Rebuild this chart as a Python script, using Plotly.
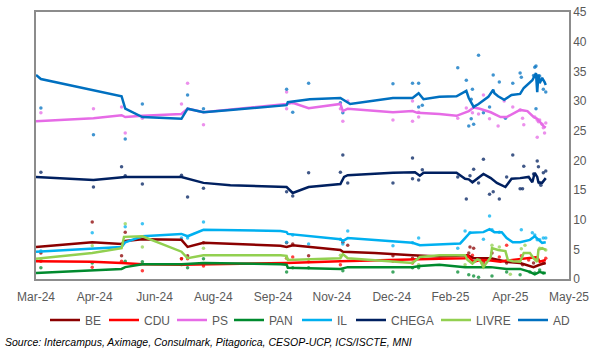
import plotly.graph_objects as go

# ---------------- DATA ----------------
parties = ["BE", "CDU", "PS", "PAN", "IL", "CHEGA", "LIVRE", "AD"]
colors = {"BE": "#8B0000", "CDU": "#FF0000", "PS": "#E66BE6", "PAN": "#008A2E",
          "IL": "#00B0F0", "CHEGA": "#002060", "LIVRE": "#92D050", "AD": "#0070C0"}

tick_dates = ["2024-03-10", "2024-04-27", "2024-06-15", "2024-08-02", "2024-09-20",
              "2024-11-07", "2024-12-26", "2025-02-12", "2025-04-02", "2025-05-20"]
tick_labels = ["Mar-24", "Apr-24", "Jun-24", "Aug-24", "Sep-24",
               "Nov-24", "Dec-24", "Feb-25", "Apr-25", "May-25"]

# --- polling average lines ---
AD_line_d = ["2024-03-10", "2024-03-14", "2024-05-19", "2024-05-22", "2024-06-05", "2024-07-07", "2024-07-12",
             "2024-07-25", "2024-08-16", "2024-10-01", "2024-10-02", "2024-10-20", "2024-11-14", "2024-11-22",
             "2024-12-27", "2025-01-12", "2025-01-17", "2025-01-21", "2025-02-03", "2025-02-17", "2025-02-25",
             "2025-02-27", "2025-03-03", "2025-03-07", "2025-03-15", "2025-03-19", "2025-03-20", "2025-03-23",
             "2025-03-28", "2025-04-03", "2025-04-10", "2025-04-13", "2025-04-20", "2025-04-23", "2025-04-24",
             "2025-04-25", "2025-04-26", "2025-04-28", "2025-04-30", "2025-05-01"]
AD_line_v = [34.4, 33.7, 30.8, 28.7, 27.3, 27.0, 28.7, 28.1, 28.5, 29.3, 29.8, 30.3, 30.5, 29.5,
             30.5, 30.5, 31.3, 30.3, 30.7, 30.8, 31.7, 30.5, 29.0, 29.5, 30.7, 31.9, 31.3, 30.8,
             30.2, 31.0, 31.2, 32.2, 33.5, 34.7, 31.5, 34.5, 33.0, 33.9, 33.2, 32.7]

PS_line_d = ["2024-03-10", "2024-04-26", "2024-05-19", "2024-05-22", "2024-06-05", "2024-07-07", "2024-07-12",
             "2024-07-25", "2024-10-01", "2024-10-06", "2024-10-19", "2024-11-14", "2024-11-16", "2024-11-20",
             "2024-12-27", "2025-01-12", "2025-01-16", "2025-02-03", "2025-02-17", "2025-02-27", "2025-03-03",
             "2025-03-08", "2025-03-17", "2025-03-25", "2025-03-30", "2025-04-10", "2025-04-16", "2025-04-21",
             "2025-04-24", "2025-04-26", "2025-04-29", "2025-05-01"]
PS_line_v = [26.6, 27.1, 27.6, 27.3, 27.5, 27.8, 28.7, 28.1, 29.5, 29.7, 28.8, 29.5, 28.3, 28.7,
             28.1, 28.3, 28.0, 27.8, 27.5, 28.3, 28.9, 28.7, 28.1, 27.3, 27.3, 28.5, 28.3, 27.3,
             27.0, 26.5, 25.8, 25.5]

CHEGA_line_d = ["2024-03-10", "2024-04-26", "2024-05-22", "2024-07-07", "2024-07-25", "2024-08-16", "2024-10-01",
                "2024-10-06", "2024-10-19", "2024-11-14", "2024-11-17", "2024-11-20", "2024-12-27", "2025-01-12",
                "2025-01-14", "2025-01-18", "2025-01-21", "2025-02-03", "2025-02-17", "2025-02-24", "2025-02-27",
                "2025-03-02", "2025-03-11", "2025-03-17", "2025-03-22", "2025-03-29", "2025-04-03", "2025-04-10",
                "2025-04-17", "2025-04-20", "2025-04-22", "2025-04-24", "2025-04-25", "2025-04-28", "2025-05-01"]
CHEGA_line_v = [17.2, 16.7, 17.2, 17.2, 16.2, 15.8, 15.5, 14.5, 15.5, 16.0, 17.2, 17.5, 17.9, 17.9,
                18.0, 17.4, 17.9, 17.9, 17.9, 16.9, 16.8, 16.3, 17.7, 17.0, 16.2, 15.5, 16.9, 17.0,
                17.2, 16.3, 17.9, 17.2, 16.3, 16.2, 17.0]

IL_line_d = ["2024-03-10", "2024-05-19", "2024-05-22", "2024-06-05", "2024-07-07", "2024-07-12", "2024-07-25",
             "2024-09-26", "2024-10-01", "2024-10-02", "2024-11-14", "2024-11-16", "2024-11-20", "2025-01-12",
             "2025-01-18", "2025-02-03", "2025-02-20", "2025-02-24", "2025-02-28", "2025-03-11", "2025-03-16",
             "2025-03-20", "2025-03-26", "2025-03-30", "2025-04-04", "2025-04-10", "2025-04-18", "2025-04-22",
             "2025-04-25", "2025-04-28", "2025-05-01"]
IL_line_v = [4.6, 5.4, 6.2, 7.2, 7.6, 7.2, 8.3, 8.1, 7.9, 7.6, 6.7, 6.4, 6.9, 6.1,
             5.7, 5.9, 6.0, 6.9, 7.8, 7.9, 8.4, 7.9, 7.9, 6.9, 6.2, 6.2, 6.6, 7.2,
             6.6, 6.1, 6.2]

BE_line_d = ["2024-03-10", "2024-04-25", "2024-05-19", "2024-05-22", "2024-06-05", "2024-07-07", "2024-07-12",
             "2024-07-25", "2024-09-26", "2024-10-01", "2024-10-06", "2024-11-14", "2024-11-16", "2024-12-12",
             "2025-01-12", "2025-02-03", "2025-02-26", "2025-03-03", "2025-03-17", "2025-03-30", "2025-04-10",
             "2025-04-21", "2025-04-26", "2025-05-01"]
BE_line_v = [5.4, 6.2, 5.9, 6.4, 6.7, 6.6, 5.4, 6.1, 5.6, 5.4, 5.7, 4.9, 4.6, 4.4,
             4.0, 3.8, 4.0, 3.5, 3.5, 2.9, 2.7, 2.0, 2.4, 2.7]

CDU_line_d = ["2024-03-10", "2024-04-25", "2024-05-19", "2024-06-05", "2024-07-07", "2024-09-26", "2024-10-01",
              "2024-11-14", "2025-01-12", "2025-02-03", "2025-02-24", "2025-02-26", "2025-03-03", "2025-03-08",
              "2025-03-17", "2025-03-25", "2025-03-30", "2025-04-10", "2025-04-18", "2025-04-24", "2025-04-26",
              "2025-05-01"]
CDU_line_v = [3.0, 2.9, 2.7, 2.5, 2.4, 2.7, 2.7, 3.0, 3.2, 3.4, 3.5, 3.9, 2.9, 3.2,
              3.1, 2.9, 3.1, 3.4, 3.5, 3.7, 2.9, 3.2]

PAN_line_d = ["2024-03-10", "2024-05-19", "2024-05-22", "2024-06-05", "2024-07-07", "2024-07-25", "2024-09-26",
              "2024-10-01", "2024-10-02", "2024-11-14", "2024-11-20", "2025-01-12", "2025-01-18", "2025-02-03",
              "2025-02-24", "2025-03-17", "2025-03-30", "2025-04-10", "2025-04-18", "2025-04-22", "2025-04-26",
              "2025-04-29", "2025-05-01"]
PAN_line_v = [1.0, 1.7, 2.0, 2.5, 2.5, 2.7, 2.5, 2.4, 1.9, 1.7, 2.0, 2.0, 2.2, 2.4,
              2.0, 2.0, 1.7, 1.7, 1.2, 0.8, 1.2, 1.0, 1.0]

LIVRE_line_d = ["2024-03-10", "2024-04-25", "2024-05-19", "2024-05-21", "2024-06-05", "2024-07-07", "2024-07-12",
                "2024-07-25", "2024-09-26", "2024-10-01", "2024-10-02", "2024-11-14", "2024-11-16", "2024-11-20",
                "2025-01-12", "2025-01-18", "2025-02-03", "2025-02-24", "2025-02-26", "2025-03-02", "2025-03-06",
                "2025-03-08", "2025-03-11", "2025-03-17", "2025-03-18", "2025-03-23", "2025-03-29", "2025-03-31",
                "2025-04-04", "2025-04-10", "2025-04-13", "2025-04-18", "2025-04-21", "2025-04-24", "2025-04-25",
                "2025-04-28", "2025-05-01"]
LIVRE_line_v = [3.4, 4.4, 5.2, 7.1, 7.2, 4.6, 3.5, 4.0, 4.0, 3.9, 3.2, 3.5, 4.2, 3.5,
                2.7, 3.7, 4.0, 4.0, 3.2, 2.6, 3.3, 3.2, 2.0, 3.7, 5.2, 4.9, 4.7, 3.2,
                3.0, 2.9, 4.4, 4.4, 3.5, 2.9, 4.9, 5.2, 4.9]

# --- individual polls ---
AD_pts_d = ["2024-03-14", "2024-04-26", "2024-05-22", "2024-06-05", "2024-07-12", "2024-07-25", "2024-10-01",
            "2024-10-06", "2024-10-19", "2024-11-14", "2024-11-16", "2024-12-27", "2025-01-12", "2025-01-17",
            "2025-01-17", "2025-01-20", "2025-02-18", "2025-02-25", "2025-03-02", "2025-03-07", "2025-03-19",
            "2025-03-24", "2025-04-04", "2025-04-10", "2025-04-11", "2025-04-21", "2025-04-22", "2025-04-23",
            "2025-04-26", "2025-04-29", "2025-05-01", "2025-03-01", "2025-03-16", "2025-03-11", "2025-03-01",
            "2025-02-27", "2025-03-03", "2025-03-29", "2025-04-23"]
AD_pts_v = [28.8, 24.3, 23.6, 29.5, 31.0, 28.7, 32.0, 28.1, 33.0, 29.7, 28.0, 32.9, 33.0, 33.0,
            29.0, 29.3, 35.6, 33.5, 32.0, 37.7, 34.4, 33.2, 33.0, 34.7, 34.0, 34.3, 35.7, 35.9,
            34.2, 32.0, 31.5, 30.3, 29.0, 28.0, 27.0, 25.8, 26.1, 27.1, 28.7]

PS_pts_d = ["2024-03-14", "2024-04-26", "2024-05-19", "2024-05-22", "2024-06-05", "2024-07-07", "2024-07-12",
            "2024-07-25", "2024-10-01", "2024-10-01", "2024-10-06", "2024-11-14", "2024-11-16", "2024-11-20",
            "2024-12-27", "2025-01-12", "2025-01-12", "2025-01-17", "2025-01-17", "2025-02-25", "2025-03-11",
            "2025-02-18", "2025-03-02", "2025-03-07", "2025-03-16", "2025-03-23", "2025-03-28", "2025-04-04",
            "2025-04-10", "2025-04-12", "2025-04-13", "2025-04-22", "2025-04-24", "2025-04-25", "2025-04-26",
            "2025-04-28", "2025-04-29", "2025-05-01", "2025-04-30", "2025-04-24"]
PS_pts_v = [28.0, 28.7, 29.0, 24.6, 27.1, 29.5, 33.0, 26.0, 31.5, 28.7, 29.7, 28.7, 26.6, 30.0,
            26.8, 30.0, 26.6, 28.1, 27.3, 28.8, 31.0, 27.1, 28.0, 27.8, 27.0, 25.8, 30.0, 29.0,
            28.5, 27.1, 26.0, 27.3, 26.8, 26.5, 26.8, 26.1, 25.5, 26.3, 24.6, 23.9]

CHEGA_pts_d = ["2024-03-14", "2024-04-26", "2024-05-19", "2024-05-22", "2024-06-05", "2024-07-07", "2024-07-12",
               "2024-07-25", "2024-10-01", "2024-10-06", "2024-10-19", "2024-11-14", "2024-11-16", "2024-11-20",
               "2024-12-27", "2025-01-12", "2025-01-12", "2025-01-17", "2025-01-20", "2025-02-18", "2025-02-25",
               "2025-02-28", "2025-03-03", "2025-03-07", "2025-03-11", "2025-03-16", "2025-03-19", "2025-03-24",
               "2025-03-30", "2025-04-04", "2025-04-10", "2025-04-12", "2025-04-13", "2025-04-21", "2025-04-24",
               "2025-04-25", "2025-04-26", "2025-04-27", "2025-04-29", "2025-05-01"]
CHEGA_pts_v = [18.0, 15.5, 18.9, 17.4, 16.0, 17.5, 13.8, 15.3, 14.7, 14.0, 17.9, 18.0, 20.9, 16.2,
               16.2, 20.4, 16.9, 16.7, 18.4, 17.2, 13.5, 17.4, 18.5, 16.2, 20.2, 14.3, 14.7, 13.5,
               17.2, 20.9, 15.2, 15.2, 19.0, 17.7, 19.9, 18.9, 16.2, 15.8, 17.9, 18.2]

IL_pts_d = ["2024-03-14", "2024-04-25", "2024-05-22", "2024-06-05", "2024-07-07", "2024-07-12", "2024-07-25",
            "2024-10-01", "2024-10-06", "2024-10-19", "2024-11-14", "2024-11-16", "2024-11-20", "2024-12-27",
            "2025-01-12", "2025-01-17", "2025-02-18", "2025-02-24", "2025-02-28", "2025-03-16", "2025-03-11",
            "2025-03-18", "2025-03-24", "2025-04-11", "2025-04-20", "2025-04-22", "2025-04-24", "2025-04-26",
            "2025-04-29", "2025-05-01"]
IL_pts_v = [4.7, 7.8, 8.8, 9.3, 6.9, 6.9, 9.6, 6.2, 7.4, 5.9, 6.7, 5.9, 8.1, 5.6,
            6.1, 6.9, 5.2, 8.1, 7.8, 10.6, 6.7, 8.3, 7.9, 8.3, 7.8, 7.4, 6.6, 6.6,
            6.9, 6.9]

BE_pts_d = ["2024-03-14", "2024-04-25", "2024-05-19", "2024-05-22", "2024-07-07", "2024-07-12", "2024-07-25",
            "2024-10-01", "2024-10-06", "2024-10-19", "2024-11-16", "2024-11-20", "2024-12-27", "2025-01-12",
            "2025-01-17", "2025-02-28", "2025-03-03", "2025-02-27", "2025-03-11", "2025-03-18", "2025-03-30",
            "2025-04-12", "2025-04-21", "2025-04-29"]
BE_pts_v = [4.4, 9.6, 3.9, 7.9, 3.4, 3.9, 6.1, 6.1, 5.9, 3.9, 6.2, 5.7, 3.9, 3.5,
            3.7, 5.4, 5.2, 4.4, 3.0, 4.4, 2.7, 2.4, 2.7, 2.7]

CDU_pts_d = ["2024-03-14", "2024-04-25", "2024-05-19", "2024-06-05", "2024-07-07", "2024-07-12", "2024-07-25",
             "2024-10-01", "2024-10-06", "2024-10-19", "2024-11-14", "2024-12-27", "2025-01-12", "2025-03-30",
             "2025-03-02", "2025-03-24", "2025-04-17", "2025-05-01", "2025-03-11", "2025-04-11", "2025-04-24"]
CDU_pts_v = [3.0, 2.0, 3.0, 1.4, 3.4, 3.4, 2.2, 3.5, 3.7, 2.9, 2.4, 3.0, 2.7, 5.7,
             4.0, 3.7, 3.2, 3.5, 2.7, 3.9, 3.5]

LIVRE_pts_d = ["2024-03-14", "2024-04-25", "2024-05-22", "2024-06-05", "2024-07-07", "2024-07-25", "2024-10-01",
               "2024-11-14", "2025-01-17", "2025-03-18", "2025-03-24", "2025-04-11", "2025-04-14", "2025-04-02",
               "2025-03-10", "2025-04-26", "2025-05-01", "2025-02-24"]
LIVRE_pts_v = [3.2, 5.6, 9.3, 5.4, 2.4, 5.2, 3.5, 4.0, 2.4, 5.7, 5.4, 5.1, 5.7, 0.8,
               2.7, 5.2, 4.9, 2.4]

PAN_pts_d = ["2024-03-14", "2024-04-25", "2024-05-22", "2024-06-05", "2024-07-12", "2024-07-25", "2024-10-01",
             "2024-10-06", "2024-10-19", "2024-11-16", "2024-12-27", "2025-01-12", "2025-01-17", "2025-02-18",
             "2025-02-27", "2025-03-03", "2025-03-07", "2025-03-18", "2025-03-30", "2025-04-10", "2025-04-18",
             "2025-04-22", "2025-04-26", "2025-04-29"]
PAN_pts_v = [1.9, 2.7, 3.0, 2.9, 1.9, 3.4, 1.2, 1.9, 1.9, 1.4, 1.2, 1.9, 1.9, 1.2,
             0.7, 0.5, 0.3, 0.5, 1.2, 0.7, 1.2, 1.0, 1.5, 1.0]

source_text = "Source: Intercampus, Aximage, Consulmark, Pitagorica, CESOP-UCP, ICS/ISCTE, MNI"

lines = {"BE": (BE_line_d, BE_line_v), "CDU": (CDU_line_d, CDU_line_v), "PS": (PS_line_d, PS_line_v),
         "PAN": (PAN_line_d, PAN_line_v), "IL": (IL_line_d, IL_line_v), "CHEGA": (CHEGA_line_d, CHEGA_line_v),
         "LIVRE": (LIVRE_line_d, LIVRE_line_v), "AD": (AD_line_d, AD_line_v)}
points = {"BE": (BE_pts_d, BE_pts_v), "CDU": (CDU_pts_d, CDU_pts_v), "PS": (PS_pts_d, PS_pts_v),
          "PAN": (PAN_pts_d, PAN_pts_v), "IL": (IL_pts_d, IL_pts_v), "CHEGA": (CHEGA_pts_d, CHEGA_pts_v),
          "LIVRE": (LIVRE_pts_d, LIVRE_pts_v), "AD": (AD_pts_d, AD_pts_v)}

# legend entry left edges (px in the 606-wide page) - layout only
legend_left_px = [45, 104, 172, 229, 297, 351, 436, 513]

# ---------------- FIGURE ----------------
fig = go.Figure()
for p in parties:
    d, v = points[p]
    fig.add_trace(go.Scatter(x=d, y=v, mode="markers", showlegend=False, hoverinfo="skip",
                             marker=dict(color=colors[p], size=3.5, opacity=0.75)))
legend_layout = {}
for i, p in enumerate(parties):
    d, v = lines[p]
    lname = "legend" if i == 0 else "legend%d" % (i + 1)
    fig.add_trace(go.Scatter(x=d, y=v, mode="lines", name=p, legend=lname,
                             line=dict(color=colors[p], width=2.5)))
    legend_layout[lname] = dict(orientation="h", xref="container", yref="container",
                                x=legend_left_px[i] / 606, xanchor="left",
                                y=32 / 352, yanchor="middle",
                                font=dict(size=12, color="#595959"), itemwidth=30,
                                bgcolor="rgba(0,0,0,0)")

fig.update_layout(
    width=606, height=352,
    margin=dict(l=36, r=37, t=12, b=73, autoexpand=False),
    paper_bgcolor="white", plot_bgcolor="white",
    font=dict(family="Liberation Sans, Arial, sans-serif", size=12, color="#595959"),
    showlegend=True,
    xaxis=dict(type="date", range=[tick_dates[0], tick_dates[-1]], tickvals=tick_dates,
               ticktext=tick_labels, showgrid=False, zeroline=False, ticks="",
               ticklabelstandoff=6,
               showline=True, mirror=True, linecolor="#8c8c8c", linewidth=1.5,
               tickfont=dict(size=12, color="#595959")),
    yaxis=dict(range=[0, 45], dtick=5, side="right", showgrid=False, zeroline=False, ticks="",
               showline=True, mirror=True, linecolor="#8c8c8c", linewidth=1.5,
               tickfont=dict(size=12, color="#595959")),
    annotations=[dict(text="<i>" + source_text + "</i>", xref="paper", yref="paper", x=-0.062, y=-0.236,
                      xanchor="left", yanchor="middle", showarrow=False,
                      font=dict(size=10.5, color="#000000", family="Liberation Sans, Arial, sans-serif"))],
)
fig.update_layout(**legend_layout)

fig.write_html("out.html")
